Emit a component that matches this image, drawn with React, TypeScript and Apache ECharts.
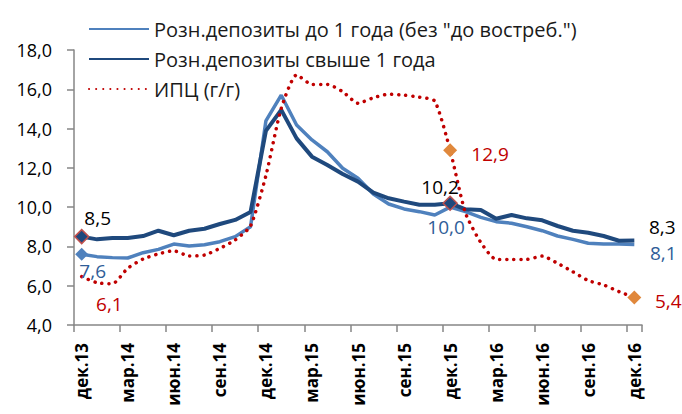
import React, { useEffect, useRef } from "react";
import * as echarts from "echarts";

const categories = [
  "дек.13", "янв.14", "фев.14", "мар.14", "апр.14", "май.14", "июн.14", "июл.14", "авг.14", "сен.14", "окт.14", "ноя.14",
  "дек.14", "янв.15", "фев.15", "мар.15", "апр.15", "май.15", "июн.15", "июл.15", "авг.15", "сен.15", "окт.15", "ноя.15",
  "дек.15", "янв.16", "фев.16", "мар.16", "апр.16", "май.16", "июн.16", "июл.16", "авг.16", "сен.16", "окт.16", "ноя.16",
  "дек.16",
];

const depositsShort = [
  7.6, 7.48, 7.43, 7.41, 7.68, 7.85, 8.12, 8.02, 8.09, 8.24, 8.5, 9.0,
  14.39, 15.7, 14.18, 13.42, 12.82, 11.98, 11.47, 10.67, 10.16, 9.91, 9.77, 9.6,
  10.0, 9.77, 9.48, 9.26, 9.18, 9.0, 8.8, 8.53, 8.36, 8.16, 8.12, 8.12,
  8.1,
];

const depositsLong = [
  8.5, 8.36, 8.43, 8.43, 8.53, 8.8, 8.57, 8.8, 8.9, 9.14, 9.35, 9.75,
  13.88, 14.95, 13.5, 12.57, 12.15, 11.69, 11.3, 10.74, 10.45, 10.28, 10.12, 10.12,
  10.2, 9.89, 9.86, 9.41, 9.6, 9.43, 9.33, 9.04, 8.8, 8.7, 8.53, 8.29,
  8.3,
];

const cpi = [
  6.46, 6.15, 6.1, 6.89, 7.36, 7.62, 7.78, 7.51, 7.56, 7.9, 8.33, 9.04,
  11.6, 15.03, 16.73, 16.25, 16.25, 15.88, 15.29, 15.57, 15.75, 15.7, 15.6, 15.4,
  12.9, 9.7, 8.2, 7.34, 7.34, 7.34, 7.51, 7.14, 6.71, 6.26, 6.04, 5.7,
  5.4,
];

const seriesNames = [
  'Розн.депозиты до 1 года (без "до востреб.")',
  "Розн.депозиты свыше 1 года",
  "ИПЦ (г/г)",
];

const yTicks = { min: 4, max: 18, step: 2 };

const FONT = "'Open Sans', 'Noto Sans', sans-serif";
const C_LIGHT = "#4F81BD";
const C_NAVY = "#1F497D";
const C_RED = "#C00000";
const C_ORANGE = "#E0883C";
const C_LABELBLUE = "#2F5D98";

const fmt = (v: number) => v.toFixed(1).replace(".", ",");

export default function App() {
  const ref = useRef<HTMLDivElement>(null);

  useEffect(() => {
    if (!ref.current) return;
    const chart = echarts.init(ref.current, undefined, { renderer: "svg" });

    const last = categories.length - 1;
    const idx24 = 24;

    const mk = (
      i: number,
      arr: number[],
      labelColor: string,
      offset: [number, number],
      symbol: string,
      size: number,
      color: string,
      border?: string
    ) => ({
      value: [i, arr[i]],
      symbol,
      symbolSize: size,
      itemStyle: {
        color,
        opacity: 1,
        borderColor: border || color,
        borderWidth: border ? 1.5 : 0,
      },
      label: {
        show: true,
        position: "inside",
        offset,
        formatter: fmt(arr[i]),
        color: labelColor,
        fontSize: 19,
        fontFamily: FONT,
        textBorderWidth: 0,
        textBorderColor: "transparent",
      },
    });

    chart.setOption({
      animation: false,
      backgroundColor: "#ffffff",
      legend: {
        orient: "vertical",
        left: 83,
        top: 14,
        itemWidth: 60,
        itemHeight: 18,
        itemGap: 10,
        data: seriesNames,
        itemStyle: { opacity: 0, borderWidth: 0 },
        textStyle: { fontSize: 20, fontFamily: FONT, color: "#1a1a1a", lineHeight: 19 },
      },
      grid: { left: 74, right: 40, top: 50, bottom: 89, containLabel: false },
      xAxis: {
        type: "category",
        data: categories,
        boundaryGap: true,
        axisLine: { show: true, lineStyle: { color: "#868686", width: 1.5 } },
        axisTick: { show: true, interval: 2, length: 7, lineStyle: { color: "#868686", width: 1.5 } },
        axisLabel: {
          interval: 2,
          rotate: 90,
          margin: 18,
          fontSize: 17,
          fontWeight: "bold",
          fontFamily: FONT,
          color: "#000",
        },
        splitLine: { show: false },
      },
      yAxis: {
        type: "value",
        min: yTicks.min,
        max: yTicks.max,
        interval: yTicks.step,
        axisLine: { show: true, lineStyle: { color: "#868686", width: 1.5 } },
        axisTick: { show: true, length: 7, lineStyle: { color: "#868686", width: 1.5 } },
        axisLabel: {
          formatter: (v: number) => fmt(v),
          fontSize: 18,
          fontFamily: FONT,
          color: "#000",
          margin: 22,
        },
        splitLine: { show: false },
      },
      series: [
        {
          name: seriesNames[0],
          type: "line",
          data: depositsShort,
          symbol: "none",
          color: C_LIGHT,
          lineStyle: { color: C_LIGHT, width: 3.5 },
          z: 2,
        },
        {
          name: seriesNames[1],
          type: "line",
          data: depositsLong,
          symbol: "none",
          color: C_NAVY,
          lineStyle: { color: C_NAVY, width: 4 },
          z: 3,
        },
        {
          name: seriesNames[2],
          type: "line",
          data: cpi,
          symbol: "none",
          smooth: 0.2,
          color: C_RED,
          lineStyle: { color: C_RED, width: 3.5, type: [0.1, 7], cap: "round" },
          z: 4,
        },
        {
          name: "markers",
          type: "scatter",
          z: 10,
          data: [
            mk(0, depositsLong, "#000", [16, -19], "diamond", 14, C_NAVY, "#C0504D"),
            mk(0, depositsShort, C_LABELBLUE, [11, 17], "diamond", 13, C_LIGHT),
            mk(2, cpi, C_RED, [-3, 20], "circle", 0, "transparent"),
            mk(idx24, cpi, C_RED, [40, 4], "diamond", 14, C_ORANGE),
            mk(idx24, depositsLong, "#000", [-10, -16], "diamond", 14, C_NAVY, "#C0504D"),
            mk(idx24, depositsShort, C_LABELBLUE, [-4, 20], "circle", 0, "transparent"),
            mk(last, depositsLong, "#000", [28, -14], "circle", 0, "transparent"),
            mk(last, depositsShort, C_LABELBLUE, [29, 9], "circle", 0, "transparent"),
            mk(last, cpi, C_RED, [34, 3], "diamond", 14, C_ORANGE),
          ],
        },
      ],
    });

    return () => chart.dispose();
  }, []);

  return (
    <div
      ref={ref}
      style={{ position: "fixed", left: 0, top: 0, width: 682, height: 414, background: "#fff" }}
    />
  );
}
